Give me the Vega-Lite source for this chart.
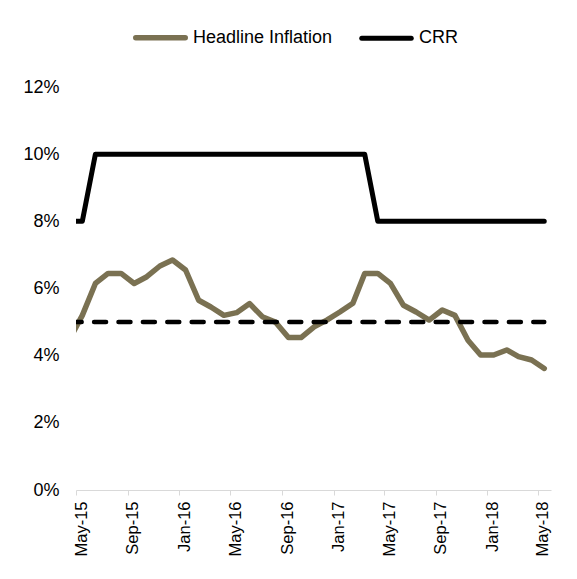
{
  "$schema": "https://vega.github.io/schema/vega-lite/v6.json",
  "width": 475,
  "height": 403,
  "autosize": {"type": "none"},
  "padding": {"left": 76, "top": 87, "right": 26, "bottom": 89},
  "background": "white",
  "config": {
    "view": {"stroke": null},
    "font": "Liberation Sans",
    "axis": {"grid": false, "title": null, "labelColor": "#000000", "labelFont": "Liberation Sans"}
  },
  "data": {
    "values": [
      {"Month": "2015-04-16", "Headline Inflation": 4.5, "CRR": 8, "Target": 5},
      {"Month": "2015-05-16", "Headline Inflation": 5.2, "CRR": 8, "Target": 5},
      {"Month": "2015-06-16", "Headline Inflation": 6.15, "CRR": 10, "Target": 5},
      {"Month": "2015-07-16", "Headline Inflation": 6.45, "CRR": 10, "Target": 5},
      {"Month": "2015-08-16", "Headline Inflation": 6.45, "CRR": 10, "Target": 5},
      {"Month": "2015-09-16", "Headline Inflation": 6.15, "CRR": 10, "Target": 5},
      {"Month": "2015-10-16", "Headline Inflation": 6.35, "CRR": 10, "Target": 5},
      {"Month": "2015-11-16", "Headline Inflation": 6.67, "CRR": 10, "Target": 5},
      {"Month": "2015-12-16", "Headline Inflation": 6.85, "CRR": 10, "Target": 5},
      {"Month": "2016-01-16", "Headline Inflation": 6.55, "CRR": 10, "Target": 5},
      {"Month": "2016-02-16", "Headline Inflation": 5.65, "CRR": 10, "Target": 5},
      {"Month": "2016-03-16", "Headline Inflation": 5.45, "CRR": 10, "Target": 5},
      {"Month": "2016-04-16", "Headline Inflation": 5.2, "CRR": 10, "Target": 5},
      {"Month": "2016-05-16", "Headline Inflation": 5.28, "CRR": 10, "Target": 5},
      {"Month": "2016-06-16", "Headline Inflation": 5.55, "CRR": 10, "Target": 5},
      {"Month": "2016-07-16", "Headline Inflation": 5.16, "CRR": 10, "Target": 5},
      {"Month": "2016-08-16", "Headline Inflation": 5.0, "CRR": 10, "Target": 5},
      {"Month": "2016-09-16", "Headline Inflation": 4.54, "CRR": 10, "Target": 5},
      {"Month": "2016-10-16", "Headline Inflation": 4.54, "CRR": 10, "Target": 5},
      {"Month": "2016-11-16", "Headline Inflation": 4.86, "CRR": 10, "Target": 5},
      {"Month": "2016-12-16", "Headline Inflation": 5.06, "CRR": 10, "Target": 5},
      {"Month": "2017-01-16", "Headline Inflation": 5.3, "CRR": 10, "Target": 5},
      {"Month": "2017-02-16", "Headline Inflation": 5.56, "CRR": 10, "Target": 5},
      {"Month": "2017-03-16", "Headline Inflation": 6.45, "CRR": 10, "Target": 5},
      {"Month": "2017-04-16", "Headline Inflation": 6.45, "CRR": 8, "Target": 5},
      {"Month": "2017-05-16", "Headline Inflation": 6.15, "CRR": 8, "Target": 5},
      {"Month": "2017-06-16", "Headline Inflation": 5.5, "CRR": 8, "Target": 5},
      {"Month": "2017-07-16", "Headline Inflation": 5.3, "CRR": 8, "Target": 5},
      {"Month": "2017-08-16", "Headline Inflation": 5.06, "CRR": 8, "Target": 5},
      {"Month": "2017-09-16", "Headline Inflation": 5.36, "CRR": 8, "Target": 5},
      {"Month": "2017-10-16", "Headline Inflation": 5.2, "CRR": 8, "Target": 5},
      {"Month": "2017-11-16", "Headline Inflation": 4.46, "CRR": 8, "Target": 5},
      {"Month": "2017-12-16", "Headline Inflation": 4.02, "CRR": 8, "Target": 5},
      {"Month": "2018-01-16", "Headline Inflation": 4.02, "CRR": 8, "Target": 5},
      {"Month": "2018-02-16", "Headline Inflation": 4.17, "CRR": 8, "Target": 5},
      {"Month": "2018-03-16", "Headline Inflation": 3.97, "CRR": 8, "Target": 5},
      {"Month": "2018-04-16", "Headline Inflation": 3.87, "CRR": 8, "Target": 5},
      {"Month": "2018-05-16", "Headline Inflation": 3.62, "CRR": 8, "Target": 5}
    ]
  },
  "encoding": {
    "x": {
      "field": "Month",
      "type": "temporal",
      "scale": {
        "type": "utc",
        "domain": [
          {"year": 2015, "month": 5, "date": 1, "utc": true},
          {"year": 2018, "month": 6, "date": 1, "utc": true}
        ]
      },
      "axis": {
        "values": [
          {"year": 2015, "month": 5, "date": 1, "utc": true},
          {"year": 2015, "month": 9, "date": 1, "utc": true},
          {"year": 2016, "month": 1, "date": 1, "utc": true},
          {"year": 2016, "month": 5, "date": 1, "utc": true},
          {"year": 2016, "month": 9, "date": 1, "utc": true},
          {"year": 2017, "month": 1, "date": 1, "utc": true},
          {"year": 2017, "month": 5, "date": 1, "utc": true},
          {"year": 2017, "month": 9, "date": 1, "utc": true},
          {"year": 2018, "month": 1, "date": 1, "utc": true},
          {"year": 2018, "month": 5, "date": 1, "utc": true}
        ],
        "format": "%b-%y",
        "labelAngle": -90,
        "labelFontSize": 16.5,
        "labelOffset": 5,
        "labelPadding": 6,
        "domainColor": "#d9d9d9",
        "domainWidth": 1,
        "tickColor": "#d9d9d9",
        "tickSize": 5,
        "labelOverlap": false,
        "labelFlush": false
      }
    }
  },
  "layer": [
    {
      "transform": [{"fold": ["Headline Inflation", "CRR"], "as": ["Series", "Value"]}],
      "mark": {"type": "line", "clip": true, "strokeCap": "round", "strokeJoin": "round"},
      "encoding": {
        "y": {
          "field": "Value",
          "type": "quantitative",
          "scale": {"domain": [0, 12], "nice": false},
          "axis": {
            "values": [0, 2, 4, 6, 8, 10, 12],
            "labelExpr": "datum.value + '%'",
            "domain": false,
            "ticks": false,
            "labelPadding": 17,
            "labelFontSize": 18
          }
        },
        "color": {
          "field": "Series",
          "type": "nominal",
          "scale": {"domain": ["Headline Inflation", "CRR"], "range": ["#7a7152", "#000000"]},
          "legend": {
            "title": null,
            "orient": "none",
            "legendX": 57,
            "legendY": -77,
            "direction": "horizontal",
            "symbolType": "stroke",
            "symbolSize": 2450,
            "symbolStrokeWidth": 5.5,
            "labelFontSize": 18,
            "labelColor": "#000000",
            "labelOffset": 5,
            "labelLimit": 250,
            "columnPadding": 18,
            "padding": 0,
            "encode": {"symbols": {"update": {"strokeCap": {"value": "round"}}}}
          }
        },
        "strokeWidth": {
          "field": "Series",
          "type": "nominal",
          "scale": {"domain": ["Headline Inflation", "CRR"], "range": [5.5, 5]},
          "legend": null
        }
      }
    },
    {
      "mark": {"type": "line", "clip": true, "strokeDash": [12, 12.4], "strokeCap": "round", "color": "#000000", "strokeWidth": 4.5},
      "encoding": {
        "y": {"field": "Target", "type": "quantitative"}
      }
    }
  ]
}
